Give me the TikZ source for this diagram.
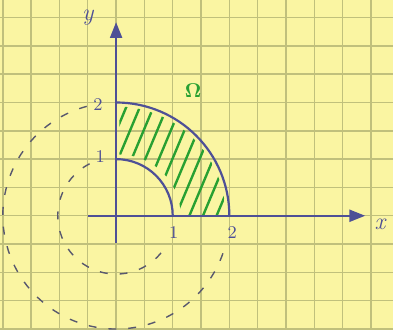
\documentclass[tikz,border=0pt]{standalone}
\usepackage{amsmath}
\usetikzlibrary{arrows.meta}

\definecolor{paper}{RGB}{250,245,162}
\definecolor{gridolive}{RGB}{192,192,124}
\definecolor{ink}{RGB}{78,80,150}
\definecolor{pencil}{RGB}{88,88,110}
\definecolor{hatch}{RGB}{40,160,50}

\begin{document}
\begin{tikzpicture}[
  gridline/.style={draw=gridolive, line width=0.7pt},
  axis/.style={-{Triangle[width=6pt,length=8pt]}, draw=ink, line width=1.2pt},
  bound/.style={draw=ink, line width=1.1pt},
  ghost/.style={draw=pencil, line width=0.7pt, dash pattern=on 4pt off 6pt},
  hatchline/.style={draw=hatch, line width=1.2pt, line cap=round},
  lbl/.style={text=ink, font=\small, inner sep=1pt}
]

% paper
\fill[paper] (-2.05,-2.0) rectangle (4.89,3.81);
\useasboundingbox (-2.05,-2.0) rectangle (4.89,3.81);
\draw[gridline] (-2.05,-2.0) grid[step=0.5] (4.89,3.81);

% dashed full circles
\draw[ghost] (117:1.03) arc (117:332:1.03);
\draw[ghost] (105:2.0) arc (105:345:2.0);

% hatched region
\begin{scope}
  \clip (0.06,0) -- (1.93,0) arc (0:90:1.93) -- (0.06,1.93) -- (0.06,1.08)
    arc (90:0:1.08) -- cycle;
  \foreach \s in {-0.95,-0.71,...,2.5}
    \draw[hatchline] (\s,-0.2) -- ++(1.05,2.5);
\end{scope}

% boundary arcs
\draw[bound] (0,2) arc (90:0:2);
\draw[bound] (0,1) arc (90:0:1);

% axes
\coordinate (xl) at (-0.5,0);
\coordinate (xr) at (4.4,0);
\coordinate (yb) at (0,-0.48);
\coordinate (yt) at (0,3.42);
\draw[axis] (xl) -- (xr);
\draw[axis] (yb) -- (yt);

% labels
\node[lbl, font=\large\itshape] (xlab) at (4.66,-0.16) {x};
\node[lbl, font=\large\itshape] (ylab) at (-0.5,3.5) {y};
\node[lbl] (y2) at (-0.32,1.96) {2};
\node[lbl] (y1) at (-0.28,1.04) {1};
\node[lbl] (x1) at (1.02,-0.3) {1};
\node[lbl] (x2) at (2.05,-0.3) {2};
\node[text=hatch] (omega) at (1.36,2.2) {$\boldsymbol{\Omega}$};

\end{tikzpicture}
\end{document}
